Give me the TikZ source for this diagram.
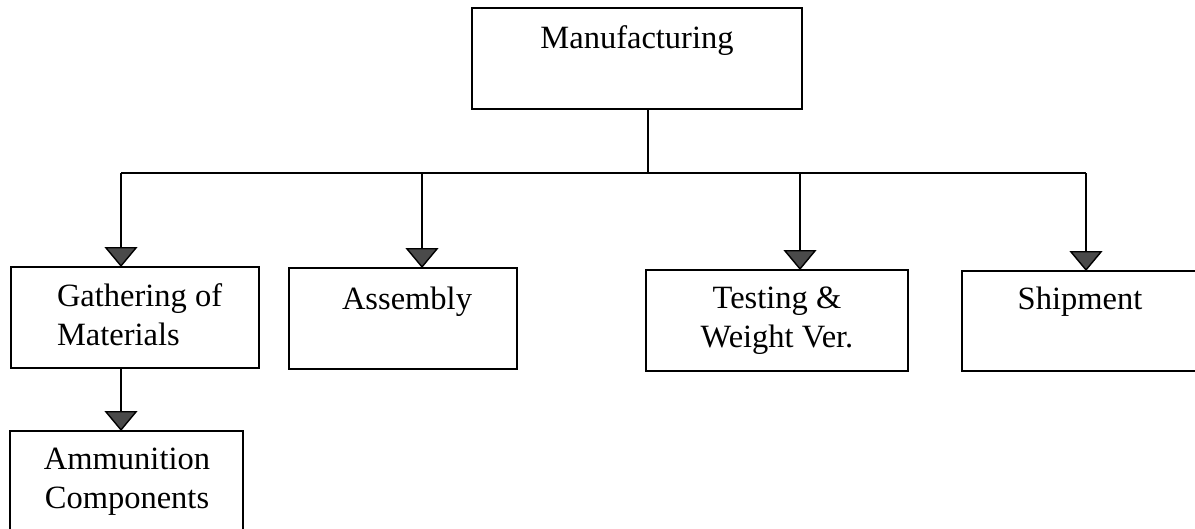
\documentclass[tikz,border=0pt]{standalone}
\usepackage{fontspec}
\setmainfont{Liberation Serif}
\usetikzlibrary{arrows.meta}
\definecolor{arrowgray}{HTML}{4A4A4A}
\begin{document}
\begin{tikzpicture}[x=1pt,y=-1pt,
  box/.style={draw=black,line width=1.6pt,inner sep=0pt,outer sep=0pt},
  lbl/.style={inner sep=0pt,outer sep=0pt,anchor=base,align=center,font=\fontsize{32.5}{39}\selectfont},
  conn/.style={draw=black,line width=1.4pt},
  arr/.style={conn,-{Triangle[width=33pt,length=20pt,fill=arrowgray]}}]
\useasboundingbox (0,0) rectangle (1195,528);
% boxes
\node[box,minimum width=330pt,minimum height=101pt] (mfg) at (637,58.5) {};
\node[box,minimum width=248pt,minimum height=101pt] (gath) at (135,317.5) {};
\node[box,minimum width=228pt,minimum height=101pt] (asm) at (403,318.5) {};
\node[box,minimum width=262pt,minimum height=101pt] (test) at (777,320.5) {};
\node[box,minimum width=240pt,minimum height=100pt] (ship) at (1082,321) {};
\node[box,minimum width=233pt,minimum height=110pt] (ammo) at (126.5,486) {};
% texts (base anchor = baseline of the last line)
\node[lbl] (mfgT) at (637,48) {Manufacturing};
\node[lbl,align=left,anchor=base west] (gathT) at (57,345) {Gathering of\\Materials};
\node[lbl] (asmT) at (407,309) {Assembly};
\node[lbl] (testT) at (777,347) {Testing \&\\Weight Ver.};
\node[lbl] (shipT) at (1080,309) {Shipment};
\node[lbl] (ammoT) at (127,508) {Ammunition\\Components};
% connectors
\coordinate (bus) at (648,173);
\coordinate (b1) at (121,173);
\coordinate (b2) at (422,173);
\coordinate (b3) at (800,173);
\coordinate (b4) at (1086,173);
\draw[conn] (mfg.south -| bus) -- (bus);
\draw[conn] (b1) -- (b4);
\draw[arr] (b1) -- (b1 |- gath.north);
\draw[arr] (b2) -- (b2 |- asm.north);
\draw[arr] (b3) -- (b3 |- test.north);
\draw[arr] (b4) -- (b4 |- ship.north);
\draw[arr] (gath.south -| b1) -- (b1 |- ammo.north);
\end{tikzpicture}
\end{document}
